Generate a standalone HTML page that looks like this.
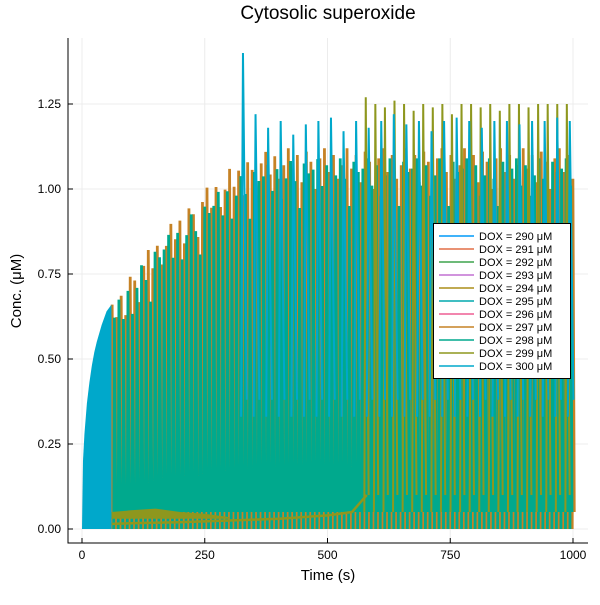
<!DOCTYPE html>
<html><head><meta charset="utf-8"><style>
body{margin:0;background:#fff;font-family:"Liberation Sans","DejaVu Sans",sans-serif}
svg text{font-family:"Liberation Sans","DejaVu Sans",sans-serif}
</style></head><body>
<svg id="c" width="600" height="600" xmlns="http://www.w3.org/2000/svg">
<rect width="600" height="600" fill="#fff"/>
<text x="328" y="19" text-anchor="middle" font-size="19">Cytosolic superoxide</text>
<g id="grid"></g><g id="plot"></g><g id="axes"></g>
<text x="328" y="580" text-anchor="middle" font-size="15">Time (s)</text>
<text transform="translate(21,291) rotate(-90)" text-anchor="middle" font-size="15">Conc. (μM)</text>
<g id="legend"></g>
</svg>
<script>
const xTicks=[0,250,500,750,1000];
const yTicks=[0,0.25,0.5,0.75,1.0,1.25];
const yTickLabels=["0.00","0.25","0.50","0.75","1.00","1.25"];
const seriesNames=["DOX = 290 μM","DOX = 291 μM","DOX = 292 μM","DOX = 293 μM","DOX = 294 μM","DOX = 295 μM","DOX = 296 μM","DOX = 297 μM","DOX = 298 μM","DOX = 299 μM","DOX = 300 μM"];
const colors=["#009af9","#e26f46","#3da44d","#c271d2","#ac8e18","#00a9ad","#ed5e93","#c68225","#00a98d","#8e971e","#00a8cb"];
const envTimes=[60,100,150,200,250,300,350,400,500,600,700,800,900,1000];
const envOrange=[0.66,0.76,0.85,0.93,1.0,1.06,1.1,1.12,1.12,1.12,1.12,1.12,1.12,1.12];
const envTeal=[0.64,0.74,0.83,0.9,0.96,1.02,1.06,1.08,1.09,1.09,1.09,1.09,1.09,1.09];
const orangeJitter=[0,-0.06,-0.02,-0.1,-0.01,-0.04,-0.12,-0.03,0,-0.07,-0.02,-0.09,-0.05];
const tealJitter=[-0.03,0,-0.08,-0.02,-0.11,-0.05,0,-0.06,-0.14,-0.01,-0.04];
const periodOrange=9.2, periodTeal=9.2;
const earlyTimes=[0,2,5,10,15,20,25,30,40,50,60];
const earlyEnv=[0,0.2,0.28,0.37,0.43,0.48,0.52,0.55,0.6,0.64,0.66];
const cyanSpikeStart=324, cyanPeriod=25.6;
const cyanPeaks=[1.4,1.22,1.18,1.2,1.16,1.19,1.2,1.21,1.17,1.2,1.18,1.2,1.22,1.19,1.2,1.17,1.2,1.21,1.2,1.18,1.2,1.2,1.19,1.2,1.2,1.21,1.2];
const oliveSpikeStart=575, olivePeriod=19.5;
const olivePeaks=[1.27,1.25,1.24,1.26,1.25,1.23,1.25,1.24,1.25,1.22,1.25,1.25,1.24,1.25,1.23,1.25,1.25,1.24,1.25,1.25,1.25,1.25];
const oliveBaseTimes=[60,100,200,300,400,500,550,580];
const oliveBase=[0.015,0.017,0.02,0.025,0.03,0.04,0.05,0.1];
const oliveNoiseTimes=[60,100,150,200,250,300];
const oliveNoise=[0.05,0.055,0.06,0.05,0.045,0.035];

const X0=82,X1=573,Y0=529,Y1=104;
const sx=t=>X0+(X1-X0)*t/1000;
const sy=v=>Y0-(Y0-Y1)*v/1.25;
const NS="http://www.w3.org/2000/svg";
function mk(tag,parent){const e=document.createElementNS(NS,tag);parent.appendChild(e);return e;}
function interp(ts,vs,t){if(t<=ts[0])return vs[0];for(let i=1;i<ts.length;i++){if(t<=ts[i]){const f=(t-ts[i-1])/(ts[i]-ts[i-1]);return vs[i-1]+f*(vs[i]-vs[i-1]);}}return vs[vs.length-1];}
const grid=document.getElementById('grid'),plot=document.getElementById('plot'),axes=document.getElementById('axes');
xTicks.forEach(t=>{const l=mk('line',grid);l.setAttribute('x1',sx(t));l.setAttribute('x2',sx(t));l.setAttribute('y1',38);l.setAttribute('y2',543);l.setAttribute('stroke','#ececec');

});
yTicks.forEach(v=>{const l=mk('line',grid);l.setAttribute('x1',68);l.setAttribute('x2',588);l.setAttribute('y1',sy(v));l.setAttribute('y2',sy(v));l.setAttribute('stroke','#ececec');

});
function spikes(start,end,period,envFn,base,color,name,w){let d='';for(let t=start;t<=end;t+=period){const p=envFn(t,Math.round((t-start)/period));d+=`M${sx(t).toFixed(2)},${sy(base)} L${sx(t+period*0.15).toFixed(2)},${sy(p).toFixed(2)} L${sx(t+period*0.45).toFixed(2)},${sy(base+0.05)} `;}
const p=mk('path',plot);p.setAttribute('d',d);p.setAttribute('stroke',color);p.setAttribute('stroke-width',w);p.setAttribute('fill','none');

}
spikes(60,1000,periodOrange,(t,i)=>interp(envTimes,envOrange,t)+orangeJitter[i%orangeJitter.length],0,colors[7],'series-297-spikes',2.8);
spikes(64.6,1000,periodTeal,(t,i)=>interp(envTimes,envTeal,t)+tealJitter[i%tealJitter.length],0,colors[8],'series-298-spikes',2.8);
{let d='';for(let t=60;t<=580;t+=2){d+=(t==60?'M':'L')+sx(t).toFixed(2)+','+sy(interp(oliveBaseTimes,oliveBase,t)).toFixed(2)+' ';}
const p=mk('path',plot);p.setAttribute('d',d);p.setAttribute('stroke',colors[9]);p.setAttribute('stroke-width',2.5);p.setAttribute('fill','none');


let a='M'+sx(60)+','+sy(0.03);oliveNoiseTimes.forEach(t=>{a+=' L'+sx(t)+','+sy(interp(oliveNoiseTimes,oliveNoise,t));});a+=' L'+sx(300)+','+sy(0.03)+' Z';
const q=mk('path',plot);q.setAttribute('d',a);q.setAttribute('fill',colors[9]);

}
spikes(oliveSpikeStart,1000,olivePeriod,(t,i)=>olivePeaks[i%olivePeaks.length],0.05,colors[9],'series-299-spikes',2);
{let d='M'+sx(0)+','+sy(0);earlyTimes.forEach(t=>{d+=' L'+sx(t).toFixed(2)+','+sy(interp(earlyTimes,earlyEnv,t)).toFixed(2);});d+=' L'+sx(60)+','+sy(0)+' Z';
const p=mk('path',plot);p.setAttribute('d',d);p.setAttribute('fill',colors[10]);

}
spikes(cyanSpikeStart,1000,cyanPeriod,(t,i)=>cyanPeaks[i%cyanPeaks.length],0.33,colors[10],'series-300-spikes',2);
const ax=mk('path',axes);ax.setAttribute('d','M68,38 L68,543 L588,543');ax.setAttribute('stroke','#000');ax.setAttribute('fill','none');


xTicks.forEach(t=>{const l=mk('line',axes);l.setAttribute('x1',sx(t));l.setAttribute('x2',sx(t));l.setAttribute('y1',543);l.setAttribute('y2',538);l.setAttribute('stroke','#000');


const tx=mk('text',axes);tx.setAttribute('x',sx(t));tx.setAttribute('y',559);tx.setAttribute('text-anchor','middle');tx.setAttribute('font-size','12');tx.textContent=t;

});
yTicks.forEach((v,i)=>{const l=mk('line',axes);l.setAttribute('x1',68);l.setAttribute('x2',73);l.setAttribute('y1',sy(v));l.setAttribute('y2',sy(v));l.setAttribute('stroke','#000');


const tx=mk('text',axes);tx.setAttribute('x',61);tx.setAttribute('y',sy(v)+4);tx.setAttribute('text-anchor','end');tx.setAttribute('font-size','12');tx.textContent=yTickLabels[i];

});
const lg=document.getElementById('legend');
const box=mk('rect',lg);box.setAttribute('x',433.5);box.setAttribute('y',223.5);box.setAttribute('width',137);box.setAttribute('height',155);box.setAttribute('fill','#fff');box.setAttribute('stroke','#000');


seriesNames.forEach((n,i)=>{const y=236+i*13;const l=mk('line',lg);l.setAttribute('x1',439);l.setAttribute('x2',474);l.setAttribute('y1',y);l.setAttribute('y2',y);l.setAttribute('stroke',colors[i]);l.setAttribute('stroke-width',1.5);


const tx=mk('text',lg);tx.setAttribute('x',479);tx.setAttribute('y',y+4);tx.setAttribute('font-size','11');tx.textContent=n;

});
</script>
</body></html>
